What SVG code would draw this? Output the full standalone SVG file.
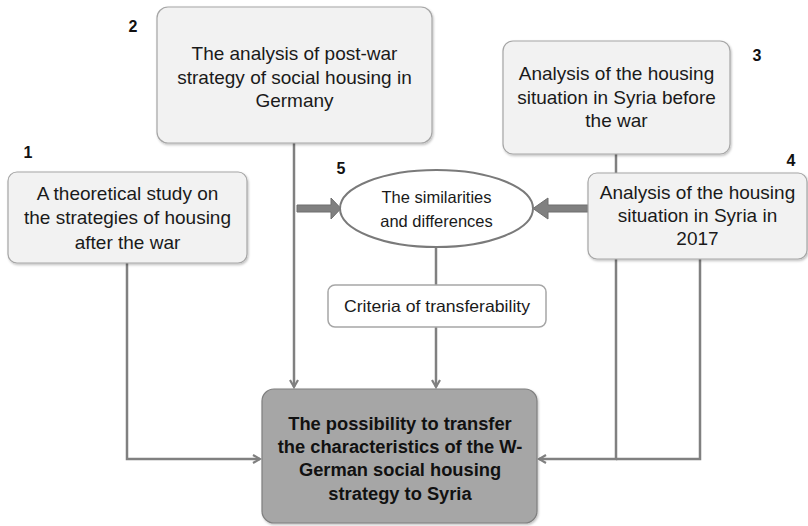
<svg xmlns="http://www.w3.org/2000/svg" width="808" height="526" viewBox="0 0 808 526">
<style>
.box{fill:#f2f2f2;stroke:#a6a6a6;stroke-width:1.2}
.t{font-family:"Liberation Sans",Arial,sans-serif;font-size:19px;fill:#1a1a1a;text-anchor:middle;dominant-baseline:central}
.num{font-family:"Liberation Sans",Arial,sans-serif;font-size:16px;font-weight:bold;fill:#111;text-anchor:middle;dominant-baseline:central}
.c{fill:none;stroke:#808080;stroke-width:2.5}
.fat{fill:#808080;stroke:#6e6e6e;stroke-width:1}
</style>
<defs>
<marker id="ah" markerWidth="10" markerHeight="10" refX="8" refY="5" orient="auto" markerUnits="userSpaceOnUse">
<polyline points="1,1 8,5 1,9" fill="none" stroke="#808080" stroke-width="2.2"/>
</marker>
<filter id="sh" x="-5%" y="-5%" width="115%" height="120%">
<feDropShadow dx="1" dy="1.5" stdDeviation="1.2" flood-color="#000" flood-opacity="0.25"/>
</filter>
</defs>
<rect width="808" height="526" fill="#ffffff"/>
<g id="connectors">
<polyline class="c" points="127,263 127,459 260,459" marker-end="url(#ah)"/>
<polyline class="c" points="294,143 294,387" marker-end="url(#ah)"/>
<polyline class="c" points="436,247 436,285"/>
<polyline class="c" points="436,327 436,387" marker-end="url(#ah)"/>
<polyline class="c" points="616,154 616,174"/>
<polyline class="c" points="700,259 700,459 616,459"/>
<polyline class="c" points="616,259 616,459 539,459" marker-end="url(#ah)"/>
<polygon class="fat" points="297,205 331,205 331,198 341,208.5 331,219 331,212 297,212"/>
<polygon class="fat" points="588,205 548,205 548,198 533,208.5 548,219 548,212 588,212"/>
</g>
<g id="node1">
<rect class="box" x="8" y="172" width="239" height="91" rx="9" filter="url(#sh)"/>
<text class="t" x="127.5" y="193">A theoretical study on</text>
<text class="t" x="127.5" y="217">the strategies of housing</text>
<text class="t" x="127.5" y="242">after the war</text>
<text class="num" x="28" y="152">1</text>
</g>
<g id="node2">
<rect class="box" x="157" y="7" width="275" height="136" rx="11" filter="url(#sh)"/>
<text class="t" x="294.5" y="53">The analysis of post-war</text>
<text class="t" x="294.5" y="77">strategy of social housing in</text>
<text class="t" x="294.5" y="100">Germany</text>
<text class="num" x="133" y="26">2</text>
</g>
<g id="node3">
<rect class="box" x="503" y="41" width="227" height="113" rx="10" filter="url(#sh)"/>
<text class="t" x="616.5" y="73">Analysis of the housing</text>
<text class="t" x="616.5" y="97">situation in Syria before</text>
<text class="t" x="616.5" y="120">the war</text>
<text class="num" x="757" y="55">3</text>
</g>
<g id="node4">
<rect class="box" x="588" y="173" width="219" height="86" rx="9" filter="url(#sh)"/>
<text class="t" x="697.5" y="192">Analysis of the housing</text>
<text class="t" x="697.5" y="215">situation in Syria in</text>
<text class="t" x="697.5" y="238">2017</text>
<text class="num" x="791" y="160">4</text>
</g>
<g id="node5">
<ellipse cx="436.5" cy="208.5" rx="96.5" ry="38.5" fill="#ffffff" stroke="#7a7a7a" stroke-width="2"/>
<text class="t" x="436.5" y="197" style="font-size:16.5px">The similarities</text>
<text class="t" x="436.5" y="221" style="font-size:16.5px">and differences</text>
<text class="num" x="341" y="168">5</text>
</g>
<g id="criteria">
<rect x="328" y="285" width="218" height="42" rx="7" fill="#ffffff" stroke="#a6a6a6" stroke-width="1.5"/>
<text class="t" x="437" y="306" style="font-size:16.5px" textLength="186" lengthAdjust="spacingAndGlyphs">Criteria of transferability</text>
</g>
<g id="result">
<rect x="262" y="389" width="275" height="134" rx="12" fill="#a6a6a6" stroke="#7f7f7f" stroke-width="1.2" filter="url(#sh)"/>
<text class="t" x="400" y="423" style="font-size:18.3px;font-weight:bold;fill:#111">The possibility to transfer</text>
<text class="t" x="400" y="446" style="font-size:18.3px;font-weight:bold;fill:#111">the characteristics of the W-</text>
<text class="t" x="400" y="469" style="font-size:18.3px;font-weight:bold;fill:#111">German social housing</text>
<text class="t" x="400" y="493" style="font-size:18.3px;font-weight:bold;fill:#111">strategy to Syria</text>
</g>
</svg>
